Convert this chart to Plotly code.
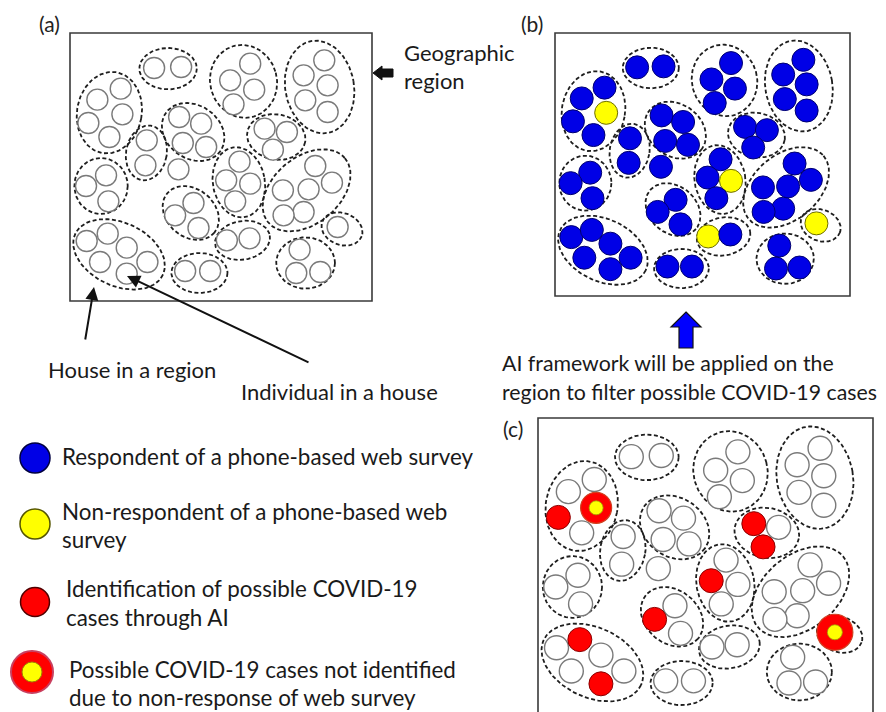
import numpy as np
import plotly.graph_objects as go

W, H = 886, 712
PAGE_MARGIN = 8   # browser body margin; data coords are page pixels
FONT = "Lato"

# ---------------- data: houses and individuals (reference layout units) ----------------
REF_BOX = (210, 98, 1115, 902)   # region frame in layout units

HOUSE_ID  = list("ABCDEFGHIJKLMNOP")
HOUSE_CX  = [504, 730, 958, 328, 439, 579, 828, 303, 716, 919, 572, 357, 727, 1025, 598, 916]
HOUSE_CY  = [205, 243, 260, 337, 458, 395, 410, 557, 546, 570, 638, 762, 720, 686, 818, 788]
HOUSE_A   = [86, 100, 103, 97, 61, 100, 88, 80, 78, 150, 92, 145, 83, 63, 84, 88]
HOUSE_B   = [62, 110, 140, 123, 83, 80, 68, 84, 106, 100, 72, 95, 58, 48, 60, 77]
HOUSE_ANG = [0, -15, -10, 10, 10, 35, 10, 0, -10, -40, 40, 25, -10, 20, 0, 0]

IND_X = [462, 543, 750, 690, 762, 700, 972, 910, 982, 915, 982, 362, 292, 367, 265, 328,
         440, 436, 535, 537, 603, 548, 618, 793, 860, 818, 318, 258, 325, 718, 678, 750,
         705, 945, 995, 925, 848, 910, 850, 580, 525, 595, 260, 323, 380, 300, 442, 380,
         680, 748, 1012, 555, 630, 898, 888, 960]
IND_Y = [203, 200, 190, 240, 268, 312, 180, 225, 255, 300, 335, 265, 298, 342, 368, 410,
         420, 495, 507, 350, 370, 428, 440, 385, 395, 448, 525, 557, 603, 484, 540, 550,
         603, 497, 547, 567, 570, 635, 645, 608, 645, 683, 722, 700, 742, 785, 785, 820,
         720, 714, 680, 812, 812, 748, 818, 815]
# survey response: R = respondent, N = non-respondent
SURVEY = ["R"] * len(IND_X)
for i in [13, 31, 48, 50]:
    SURVEY[i] = "N"
# AI outcome: "" none, "red" identified, "ring" missed due to non-response
AI = [""] * len(IND_X)
for i in [14, 23, 25, 30, 40, 43, 47]:
    AI[i] = "red"
for i in [13, 50]:
    AI[i] = "ring"
RING_OUTER = {13: 31, 50: 36}
RING_INNER = {13: 14, 50: 15}

# panel frames (pixels)
PANEL_BOX = {"a": (70, 33, 372, 301), "b": (555, 33, 850, 296), "c": (538, 418, 873, 714)}
PANEL_DOT = {"a": 21, "b": 23, "c": 24}
PANEL_LABEL = {"a": (49, 23), "b": (532, 23), "c": (513, 428)}

# legend
LEG_SYM_X = [35, 35, 35, 32]
LEG_SYM_Y = [458, 524, 602, 672]
LEG_TEXT = [["Respondent of a phone-based web survey"],
            ["Non-respondent of a phone-based web", "survey"],
            ["Identification of possible COVID-19", "cases through AI"],
            ["Possible COVID-19 cases not identified", "due to non-response of web survey"]]
LEG_TEXT_X = [60, 60, 64, 67]
LEG_TEXT_Y = [[456], [511, 539], [588, 617], [669, 697]]

# colours
BLUE, YELLOW, RED = "#0000e6", "#ffff00", "#ff0000"

fig = go.Figure()


def mapper(panel):
    x0, y0, x1, y1 = PANEL_BOX[panel]
    rx0, ry0, rx1, ry1 = REF_BOX
    sx = (x1 - x0) / (rx1 - rx0)
    sy = (y1 - y0) / (ry1 - ry0)
    return (lambda x: x0 + (np.asarray(x, float) - rx0) * sx,
            lambda y: y0 + (np.asarray(y, float) - ry0) * sy, sx, sy)


t = np.linspace(0, 2 * np.pi, 120)
shapes = []
annotations = []

for panel in ["a", "b", "c"]:
    fx, fy, sx, sy = mapper(panel)
    x0, y0, x1, y1 = PANEL_BOX[panel]
    shapes.append(dict(type="rect", xref="x", yref="y", x0=x0, y0=y0, x1=x1, y1=y1,
                       line=dict(color="#3a3a3a", width=1.6), fillcolor="rgba(0,0,0,0)", layer="below"))
    # house outlines
    bx, by = [], []
    for cx, cy, a, b, ang in zip(HOUSE_CX, HOUSE_CY, HOUSE_A, HOUSE_B, HOUSE_ANG):
        th = np.deg2rad(ang)
        ex, ey = a * np.cos(t), b * np.sin(t)
        px = cx + ex * np.cos(th) - ey * np.sin(th)
        py = cy + ex * np.sin(th) + ey * np.cos(th)
        bx += list(fx(px)) + [None]
        by += list(fy(py)) + [None]
    fig.add_trace(go.Scatter(x=bx, y=by, mode="lines", hoverinfo="skip",
                             line=dict(color="#1e1e1e", width=1.8, dash="4px,2.5px")))
    ds = PANEL_DOT[panel]
    X, Y = fx(IND_X), fy(IND_Y)
    if panel == "a":
        fig.add_trace(go.Scatter(x=X, y=Y, mode="markers",
                                 marker=dict(size=ds, color="white", opacity=1,
                                             line=dict(color="#7a7a7a", width=1.4))))
    elif panel == "b":
        cols = [BLUE if s == "R" else YELLOW for s in SURVEY]
        lcols = ["#00006e" if s == "R" else "#6e6e00" for s in SURVEY]
        fig.add_trace(go.Scatter(x=X, y=Y, mode="markers",
                                 marker=dict(size=ds, color=cols, opacity=1,
                                             line=dict(color=lcols, width=1.0))))
    else:
        idx_w = [i for i, s in enumerate(AI) if s == ""]
        idx_r = [i for i, s in enumerate(AI) if s == "red"]
        idx_g = [i for i, s in enumerate(AI) if s == "ring"]
        fig.add_trace(go.Scatter(x=X[idx_w], y=Y[idx_w], mode="markers",
                                 marker=dict(size=ds, color="white", opacity=1,
                                             line=dict(color="#7a7a7a", width=1.4))))
        fig.add_trace(go.Scatter(x=X[idx_r], y=Y[idx_r], mode="markers",
                                 marker=dict(size=ds, color=RED, opacity=1,
                                             line=dict(color="#8a0000", width=1.0))))
        fig.add_trace(go.Scatter(x=X[idx_g], y=Y[idx_g], mode="markers",
                                 marker=dict(size=[RING_OUTER[i] for i in idx_g], color=RED, opacity=1,
                                             line=dict(color="#d04020", width=1.2))))
        fig.add_trace(go.Scatter(x=X[idx_g], y=Y[idx_g], mode="markers",
                                 marker=dict(size=[RING_INNER[i] for i in idx_g], color=YELLOW, opacity=1,
                                             line=dict(color="#a0a000", width=0.8))))
    lx, ly = PANEL_LABEL[panel]
    annotations.append(dict(x=lx, y=ly, text=f"({panel})", showarrow=False, xanchor="center",
                            yanchor="middle", font=dict(size=21, family=FONT, color="#222")))

# legend symbols
fig.add_trace(go.Scatter(x=LEG_SYM_X[:3], y=LEG_SYM_Y[:3], mode="markers",
                         marker=dict(size=[30, 30, 29], color=[BLUE, YELLOW, RED], opacity=1,
                                     line=dict(color=["#000040", "#555500", "#500000"], width=1.5))))
fig.add_trace(go.Scatter(x=[LEG_SYM_X[3]], y=[LEG_SYM_Y[3]], mode="markers",
                         marker=dict(size=42, color=RED, opacity=1, line=dict(color="#c84060", width=2))))
fig.add_trace(go.Scatter(x=[LEG_SYM_X[3]], y=[LEG_SYM_Y[3]], mode="markers",
                         marker=dict(size=20, color=YELLOW, opacity=1, line=dict(color="#a08000", width=1))))

for lines, tx, tys in zip(LEG_TEXT, LEG_TEXT_X, LEG_TEXT_Y):
    for s, ty in zip(lines, tys):
        annotations.append(dict(x=tx, y=ty, text=s, showarrow=False, xanchor="left", yanchor="middle",
                                font=dict(size=22.4, family=FONT, color="#1a1a1a")))

# other labels (text, x, y, font size)
LABELS = [("Geographic", 402, 52, 22), ("region", 402, 80, 22),
          ("House in a region", 46, 369, 22), ("Individual in a house", 239, 391, 22),
          ("AI framework will be applied on the", 500, 363, 21.3),
          ("region to filter possible COVID-19 cases", 500, 392, 21.3)]
for s, tx, ty, fs in LABELS:
    annotations.append(dict(x=tx, y=ty, text=s, showarrow=False, xanchor="left", yanchor="middle",
                            font=dict(size=fs, family=FONT, color="#1a1a1a")))

# pointer arrows (tip, tail)
POINTERS = [((94, 287), (85, 341)), ((127, 276), (310, 363))]
for (hx, hy), (tx, ty) in POINTERS:
    annotations.append(dict(x=hx, y=hy, ax=tx, ay=ty, xref="x", yref="y", axref="x", ayref="y",
                            text="", showarrow=True, arrowhead=2, arrowsize=1.3, arrowwidth=2,
                            arrowcolor="#111"))


def block_arrow(tipx, tipy, length, head_len, head_hw, shaft_hw, direction):
    if direction == "left":
        pts = [(tipx, tipy), (tipx + head_len, tipy - head_hw), (tipx + head_len, tipy - shaft_hw),
               (tipx + length, tipy - shaft_hw), (tipx + length, tipy + shaft_hw),
               (tipx + head_len, tipy + shaft_hw), (tipx + head_len, tipy + head_hw)]
    else:  # up
        pts = [(tipx, tipy), (tipx + head_hw, tipy + head_len), (tipx + shaft_hw, tipy + head_len),
               (tipx + shaft_hw, tipy + length), (tipx - shaft_hw, tipy + length),
               (tipx - shaft_hw, tipy + head_len), (tipx - head_hw, tipy + head_len)]
    return "M " + " L ".join(f"{x},{y}" for x, y in pts) + " Z"


shapes.append(dict(type="path", xref="x", yref="y", path=block_arrow(373, 73, 20, 9, 7, 4, "left"),
                   fillcolor="#111", line=dict(color="#111", width=1)))
shapes.append(dict(type="path", xref="x", yref="y", path=block_arrow(686, 312, 36, 15, 15, 7, "up"),
                   fillcolor="#0000ff", line=dict(color="#111", width=1.2)))

fig.update_layout(width=W, height=H, margin=dict(l=0, r=0, t=0, b=0),
                  paper_bgcolor="white", plot_bgcolor="white", showlegend=False,
                  shapes=shapes, annotations=annotations,
                  xaxis=dict(range=[PAGE_MARGIN, W + PAGE_MARGIN], visible=False, fixedrange=True),
                  yaxis=dict(range=[H + PAGE_MARGIN, PAGE_MARGIN], visible=False, fixedrange=True))
fig.write_html("out.html")
